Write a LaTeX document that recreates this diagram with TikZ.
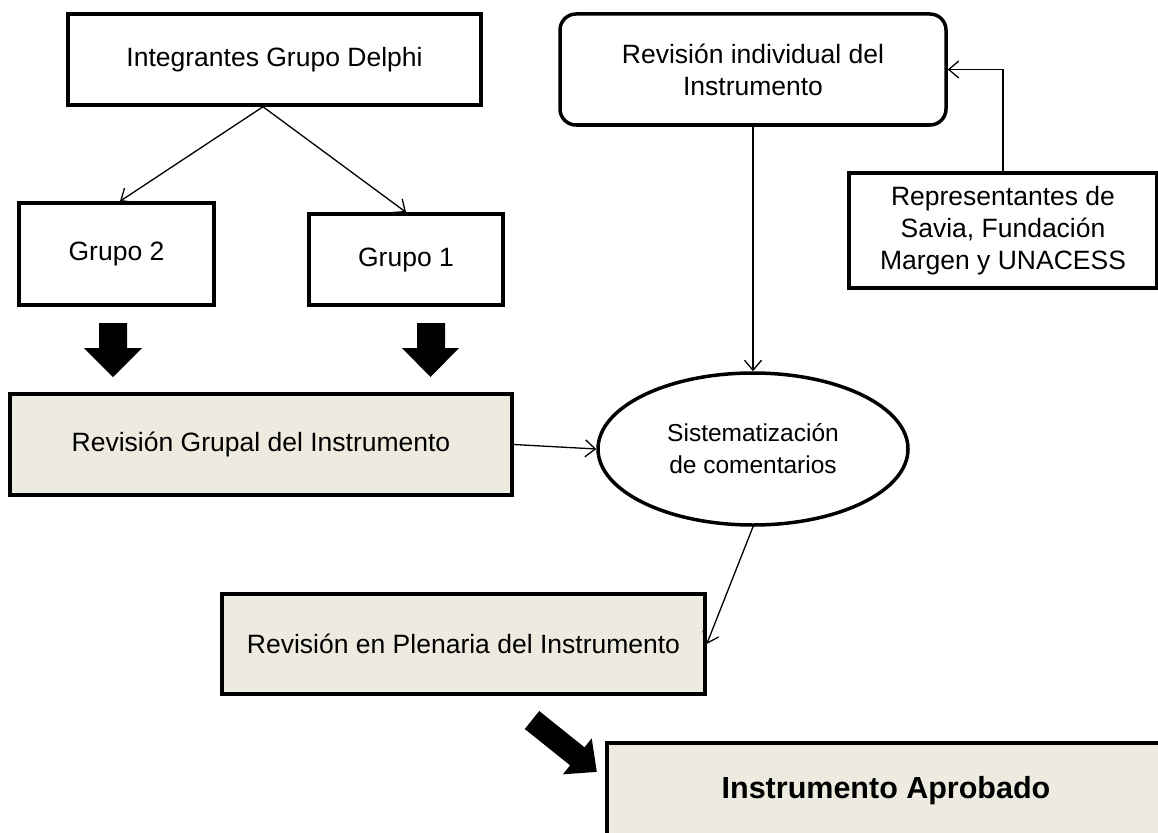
\documentclass[tikz,border=0pt]{standalone}
\usepackage{fontspec}
\setmainfont{Liberation Sans}
\usetikzlibrary{arrows.meta,shapes.geometric}
\definecolor{boxfill}{RGB}{237,234,224}
\begin{document}
\begin{tikzpicture}[x=1pt,y=-1pt,
  box/.style={draw, line width=3.5pt, rectangle, inner sep=0pt, align=center,
    font=\fontsize{26.5}{32}\selectfont},
  fillbox/.style={box, fill=boxfill},
  conn/.style={line width=1.3pt, -{Straight Barb[length=10pt,width=17pt]}},
  blockarrow/.style={fill=black}
]
\useasboundingbox (0,0) rectangle (1158,832);

% nodes
\node[box, minimum width=413pt, minimum height=91pt] (intg) at (274.5,59.5) {Integrantes Grupo Delphi};
\node[box, minimum width=195pt, minimum height=102pt] (g2) at (116.5,254) {Grupo 2};
\node[box, minimum width=194pt, minimum height=91pt] (g1) at (406,259.5) {Grupo 1};
\node[fillbox, minimum width=502pt, minimum height=101pt] (rg) at (261,444.5) {Revisión Grupal del Instrumento};
\node[box, rounded corners=16pt, minimum width=386pt, minimum height=111pt] (ri) at (753,69.5) {Revisión individual del\\Instrumento};
\node[box, minimum width=308pt, minimum height=115pt] (rep) at (1003,230.5) {Representantes de\\Savia, Fundación\\Margen y UNACESS};
\node[draw, line width=3.5pt, ellipse, inner sep=0pt, minimum width=310pt, minimum height=152pt, align=center,
  font=\fontsize{24.5}{32}\selectfont] (sis) at (753,449) {Sistematización\\de comentarios};
\node[fillbox, minimum width=483pt, minimum height=100pt] (pl) at (463.5,644) {Revisión en Plenaria del Instrumento};
\node[fillbox, minimum width=558pt, minimum height=96pt, font=\bfseries\fontsize{30.5}{36}\selectfont] (ia) at (886,791) {Instrumento Aprobado};

% connectors
\draw[conn] ([xshift=-11.5pt]intg.south) -- ([xshift=3.5pt]g2.north);
\draw[conn] ([xshift=-11.5pt]intg.south) -- (g1.north);
\draw[conn] (ri.south) -- (sis.north);
\draw[conn] (rep.north) |- (ri.east);
\draw[conn] (rg.east) -- (sis.west);
\draw[conn] (sis.south) -- (pl.east);

% block arrows
\fill[blockarrow] (99,323) -- (127,323) -- (127,348) -- (142,348) -- (113,377) -- (84,348) -- (99,348) -- cycle;
\fill[blockarrow] (417,323) -- (445,323) -- (445,348) -- (459,348) -- (430.5,377) -- (402,348) -- (417,348) -- cycle;
\fill[blockarrow] (524.8,729.0) -- (539.2,711.0) -- (584.5,747.3) -- (591.7,738.3) -- (596.8,771.9) -- (562.9,774.3) -- (570.1,765.3) -- cycle;
\end{tikzpicture}
\end{document}
